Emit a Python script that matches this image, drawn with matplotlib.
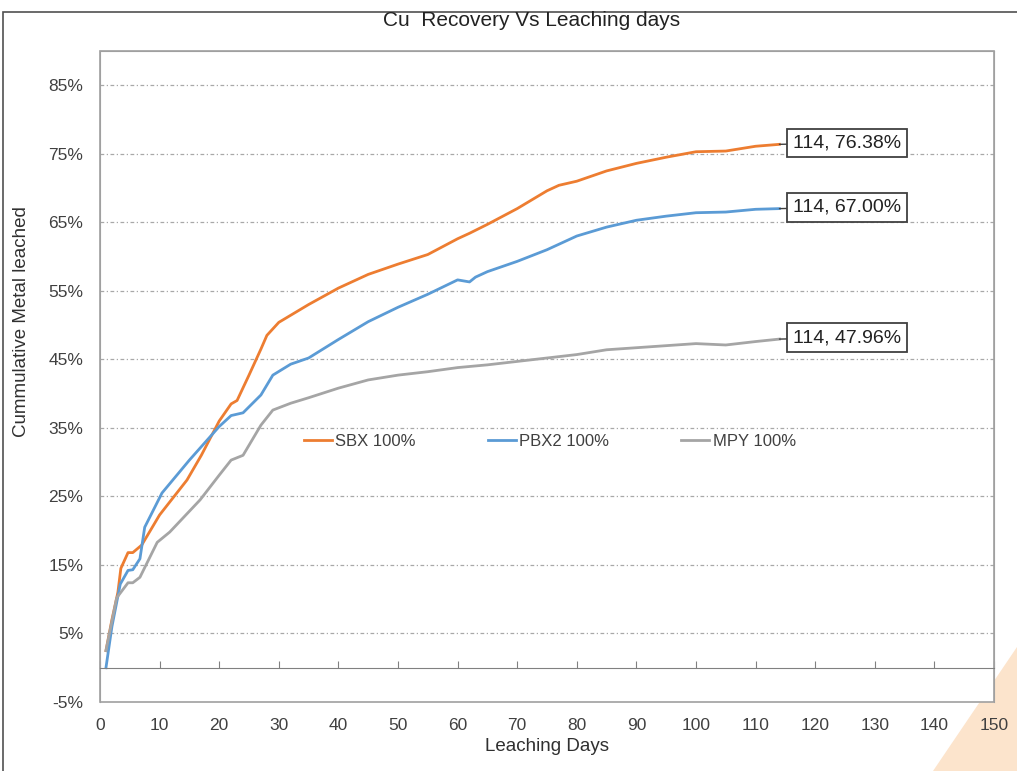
import matplotlib.pyplot as plt
from matplotlib.patches import Rectangle, Polygon

plt.rcParams['font.family'] = ['Liberation Sans', 'DejaVu Sans']

# dados (dias, % cumulativo)
days_sbx = [1, 2, 3, 3.5, 4.7, 5.5, 7, 10, 14.6, 17, 20, 22, 23, 25, 27, 28, 30, 35, 40, 45, 50, 55, 60,
            62, 65, 70, 75, 77, 80, 85, 90, 95, 100, 105, 110, 114]
rec_sbx = [2.5, 7.0, 11.0, 14.5, 16.8, 16.8, 17.9, 22.3, 27.4, 31.0, 36.0, 38.5, 39.0, 42.7, 46.5, 48.5, 50.4,
           53.0, 55.4, 57.4, 58.9, 60.3, 62.6, 63.4, 64.7, 67.0, 69.6, 70.4, 71.0, 72.5, 73.6, 74.5, 75.3,
           75.4, 76.1, 76.38]

days_pbx = [1, 2, 3.4, 4.7, 5.5, 6.7, 7.5, 10.4, 15, 20, 22, 24, 27, 29, 32, 35, 40, 45, 50, 55, 60, 62,
            63, 65, 70, 75, 80, 85, 90, 95, 100, 105, 110, 114]
rec_pbx = [0.0, 6.0, 12.2, 14.2, 14.3, 15.9, 20.5, 25.5, 30.3, 35.2, 36.8, 37.2, 39.8, 42.7, 44.3, 45.2,
           47.9, 50.5, 52.6, 54.5, 56.6, 56.3, 57.0, 57.8, 59.3, 61.0, 63.0, 64.3, 65.3, 65.9, 66.4, 66.5,
           66.9, 67.0]

days_mpy = [1, 2.8, 4.7, 5.5, 6.7, 9.6, 11.7, 16.8, 20, 22, 24, 27, 29, 32, 35, 40, 45, 50, 55, 60, 65,
            70, 75, 80, 85, 90, 95, 100, 105, 110, 114]
rec_mpy = [2.5, 10.2, 12.4, 12.4, 13.2, 18.3, 19.8, 24.5, 28.1, 30.3, 31.0, 35.4, 37.6, 38.6, 39.4, 40.8,
           42.0, 42.7, 43.2, 43.8, 44.2, 44.7, 45.2, 45.7, 46.4, 46.7, 47.0, 47.3, 47.1, 47.6, 47.96]

series = [("SBX 100%", days_sbx, rec_sbx, "#ED7D31"),
          ("PBX2 100%", days_pbx, rec_pbx, "#5B9BD5"),
          ("MPY 100%", days_mpy, rec_mpy, "#A5A5A5")]

yticks = [-5, 5, 15, 25, 35, 45, 55, 65, 75, 85]
xticks = list(range(0, 151, 10))

fig = plt.figure(figsize=(10.17, 7.71), dpi=100)
ax = fig.add_axes([100/1017, 69/771, 894/1017, 651/771])

# moldura externa (sem borda direita visivel) e triangulo decorativo
fig.patches.append(Rectangle((3/1017, -0.01), 1.05, 1 - 12/771 + 0.01, transform=fig.transFigure,
                             fill=False, edgecolor="#505050", linewidth=1.2))
fig.patches.append(Polygon([(933/1017, 0), (1, 124/771), (1, 0)], closed=True,
                           transform=fig.transFigure, facecolor="#FCE4CC", edgecolor="none", zorder=-1))

for name, x, y, c in series:
    ax.plot(x, y, color=c, linewidth=2, label=name)
    # rotulo do ultimo ponto
    ax.annotate(f"{x[-1]}, {y[-1]:.2f}%", xy=(x[-1], y[-1]), xytext=(10, 1), textcoords="offset points",
                ha="left", va="center", fontsize=14, color="#222222",
                bbox=dict(boxstyle="square,pad=0.3", fc="white", ec="#404040", lw=1.3),
                arrowprops=dict(arrowstyle="-", color="#404040", lw=1.0, shrinkA=0, shrinkB=0))

ax.set_xlim(0, 150)
ax.set_ylim(-5, 90)
ax.set_xticks(xticks)
ax.set_yticks(yticks)
ax.set_yticklabels([f"{v}%" for v in yticks])

for v in yticks[1:]:
    ax.axhline(v, color="#a8a8a8", linewidth=0.9, linestyle=(0, (3, 2, 1, 2)), zorder=0)

# eixo x na linha do zero
ax.spines["bottom"].set_position(("data", 0))
ax.spines["bottom"].set_color("#808080")
for s in ["left", "right", "top"]:
    ax.spines[s].set_color("#a0a0a0")
ax.add_patch(Rectangle((0, 0), 1, 1, transform=ax.transAxes, fill=False, edgecolor="#a0a0a0",
                       linewidth=1.2, clip_on=False))
ax.tick_params(axis="x", direction="in", length=5, color="#808080", pad=36, labelsize=12.5,
               labelcolor="#404040")
ax.tick_params(axis="y", length=0, pad=12, labelsize=12.5, labelcolor="#404040")

ax.set_xlabel("Leaching Days", fontsize=13.5, color="#303030")
ax.xaxis.set_label_coords(0.5, -0.055)
ax.set_ylabel("Cummulative Metal leached", fontsize=13.5, color="#303030")
ax.yaxis.set_label_coords(-0.078, 0.585)

fig.text(532/1017, 1 - 21/771, "Cu  Recovery Vs Leaching days", ha="center", va="center",
         fontsize=15, color="#222222")

ax.legend(loc="center", bbox_to_anchor=(0.503, 0.40), ncol=3, frameon=False, fontsize=12,
          columnspacing=4.3, handlelength=1.7, handletextpad=0.2, labelcolor="#404040")

fig.savefig("out.png", dpi=100)
